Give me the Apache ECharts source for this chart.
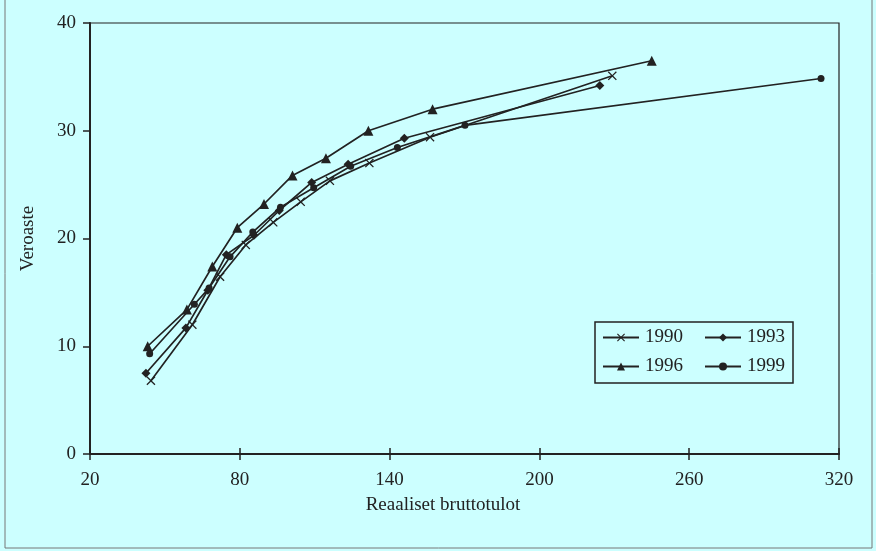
<!DOCTYPE html>
<html>
<head>
<meta charset="utf-8">
<script src="https://cdn.jsdelivr.net/npm/echarts@6/dist/echarts.min.js"></script>
<style>
html,body{margin:0;padding:0;background:#CCFFFF;}
#c{width:876px;height:551px;}
</style>
</head>
<body>
<div id="c"></div>
<script>
const xTicks = [20, 80, 140, 200, 260, 320];
const yTicks = [0, 10, 20, 30, 40];
const seriesNames = ['1990', '1993', '1996', '1999'];

const data1990 = [[44.4,6.8],[61.0,12.0],[72.1,16.45],[82.4,19.4],[93.4,21.5],[104.4,23.4],[116.1,25.35],[131.9,27.0],[156.2,29.4],[229.2,35.1]];
const data1993 = [[42.4,7.5],[58.4,11.7],[67.2,15.2],[74.6,18.5],[85.7,20.3],[95.8,22.6],[108.8,25.2],[123.4,26.9],[145.9,29.3],[224.2,34.2]];
const data1996 = [[43.1,10.0],[58.8,13.4],[69.0,17.4],[79.0,21.0],[89.7,23.2],[101.1,25.85],[114.5,27.45],[131.5,30.0],[157.2,32.0],[245.0,36.5]];
const data1999 = [[43.9,9.3],[61.8,13.9],[67.7,15.4],[76.1,18.3],[85.2,20.6],[96.3,22.9],[109.6,24.7],[124.4,26.7],[143.1,28.45],[170.2,30.5],[312.8,34.85]];

const FONT = 'Liberation Serif';
const INK = '#222222';
const crossPath = 'path://M0,1 L1,0 L5,4 L9,0 L10,1 L6,5 L10,9 L9,10 L5,6 L1,10 L0,9 L4,5 Z';

function mkSeries(name, data, symbol, size) {
  return {
    name: name, type: 'line', data: data,
    symbol: symbol, symbolSize: size,
    lineStyle: {color: INK, width: 1.7},
    itemStyle: {color: INK},
    emphasis: {disabled: true},
    animation: false
  };
}

const legendCommon = {
  left: 597, orient: 'horizontal',
  itemWidth: 36, itemHeight: 10, itemGap: 21,
  textStyle: {fontFamily: FONT, fontSize: 19, color: INK, padding: [0,0,0,1]},
  selectedMode: false
};

const chart = echarts.init(document.getElementById('c'));
chart.setOption({
  backgroundColor: '#CCFFFF',
  animation: false,
  textStyle: {fontFamily: FONT},
  grid: {left: 90, right: 37, top: 23, bottom: 97, show: true, borderColor: INK, borderWidth: 1.2, containLabel: false},
  xAxis: [{
    type: 'value', min: xTicks[0], max: xTicks[xTicks.length-1], interval: 60,
    name: 'Reaaliset bruttotulot', nameLocation: 'middle', nameGap: 42,
    nameTextStyle: {fontFamily: FONT, fontSize: 19, color: INK, padding: [0, 43, 0, 0]},
    axisLine: {show: true, lineStyle: {color: INK, width: 2}},
    axisTick: {show: true, length: 6, lineStyle: {color: INK, width: 1.5}},
    axisLabel: {fontFamily: FONT, fontSize: 19, color: INK, margin: 17},
    splitLine: {show: false}
  }, {
    type: 'value', min: xTicks[0], max: xTicks[xTicks.length-1], interval: 60, position: 'bottom',
    axisLine: {show: false},
    axisTick: {show: true, inside: true, length: 6, lineStyle: {color: INK, width: 1.5}},
    axisLabel: {show: false}, splitLine: {show: false}
  }],
  yAxis: {
    type: 'value', min: yTicks[0], max: yTicks[yTicks.length-1], interval: 10,
    name: 'Veroaste', nameLocation: 'middle', nameGap: 52, nameRotate: 90,
    nameTextStyle: {fontFamily: FONT, fontSize: 19, color: INK},
    axisLine: {show: true, lineStyle: {color: INK, width: 2}},
    axisTick: {show: true, length: 7, lineStyle: {color: INK, width: 1.5}},
    axisLabel: {fontFamily: FONT, fontSize: 19, color: INK, margin: 14},
    splitLine: {show: false}
  },
  legend: [
    Object.assign({data: [seriesNames[0], seriesNames[1]], top: 323}, legendCommon),
    Object.assign({data: [seriesNames[2], seriesNames[3]], top: 352}, legendCommon)
  ],
  graphic: [{
    type: 'rect', shape: {x: 595, y: 322, width: 198, height: 61},
    style: {fill: 'none', stroke: INK, lineWidth: 1.5}, z: 0
  }, {
    type: 'rect', shape: {x: 5, y: -2, width: 867, height: 550},
    style: {fill: 'none', stroke: '#777', lineWidth: 1}, z: 0, silent: true
  }],
  series: [
    mkSeries('1990', data1990, crossPath, 9),
    mkSeries('1993', data1993, 'diamond', 9),
    mkSeries('1996', data1996, 'triangle', 10),
    mkSeries('1999', data1999, 'circle', 7)
  ]
});
</script>
</body>
</html>
